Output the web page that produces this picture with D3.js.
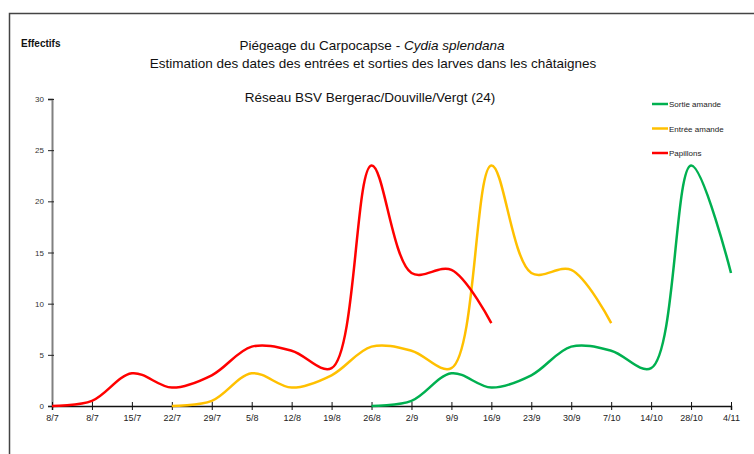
<!DOCTYPE html>
<html>
<head>
<meta charset="utf-8">
<script src="https://cdn.jsdelivr.net/npm/d3@7/dist/d3.min.js"></script>
<style>
  body { margin: 0; background: #fff; }
  svg { display: block; font-family: "Liberation Sans", Arial, sans-serif; }
</style>
</head>
<body>
<div id="chart"></div>
<script>
// dates de relevé (axe X)
const dates = ['8/7', '8/7', '15/7', '22/7', '29/7', '5/8', '12/8', '19/8', '26/8', '2/9',
  '9/9', '16/9', '23/9', '30/9', '7/10', '14/10', '28/10', '4/11'];

// effectifs par série (null = pas de relevé)
const papillons = [0, 0.5, 3.2, 1.8, 3, 5.8, 5.4, 3.7, 23.5, 13, 13.3, 8.1,
  null, null, null, null, null, null];
const entreeAmande = [null, null, null, 0, 0.5, 3.2, 1.8, 3, 5.8, 5.4, 3.7, 23.5,
  13, 13.3, 8.1, null, null, null];
const sortieAmande = [null, null, null, null, null, null, null, null, 0, 0.5, 3.2, 1.8,
  3, 5.8, 5.4, 3.7, 23.5, 13];

const yTicks = [0, 5, 10, 15, 20, 25, 30];

const series = [
  { name: 'Sortie amande', values: sortieAmande, color: '#00b050' },
  { name: 'Entrée amande', values: entreeAmande, color: '#ffc000' },
  { name: 'Papillons', values: papillons, color: '#ff0000' }
];

const w = 754, h = 454;
const svg = d3.select('#chart').append('svg').attr('width', w).attr('height', h);

// cadre du graphique
svg.append('rect')
  .attr('x', 9.5).attr('y', 13.5)
  .attr('width', 760).attr('height', 460)
  .attr('fill', 'none').attr('stroke', '#444').attr('stroke-width', 1.5);

const x = d3.scalePoint().domain(d3.range(dates.length)).range([52, 731]);
const y = d3.scaleLinear().domain([0, 30]).range([406, 99]);

// titres
svg.append('text').attr('x', 21).attr('y', 47)
  .attr('font-size', 10).attr('font-weight', 'bold').attr('fill', '#111')
  .text('Effectifs');

const t1 = svg.append('text').attr('x', 372).attr('y', 50)
  .attr('text-anchor', 'middle').attr('font-size', 13.5).attr('fill', '#111');
t1.append('tspan').text('Piégeage du Carpocapse - ');
t1.append('tspan').attr('font-style', 'italic').text('Cydia splendana');

svg.append('text').attr('x', 373).attr('y', 68)
  .attr('text-anchor', 'middle').attr('font-size', 13.5).attr('fill', '#111')
  .text('Estimation des dates des entrées et sorties des larves dans les châtaignes');

svg.append('text').attr('x', 370).attr('y', 102)
  .attr('text-anchor', 'middle').attr('font-size', 13.5).attr('fill', '#111')
  .text('Réseau BSV Bergerac/Douville/Vergt (24)');

// axe Y
const yAxis = svg.append('g')
  .attr('transform', 'translate(52,0)')
  .call(d3.axisLeft(y).tickValues(yTicks).tickSize(4).tickPadding(4));
yAxis.select('.domain').attr('stroke', '#808080').attr('stroke-width', 2);
yAxis.selectAll('.tick line').attr('x1', 2).attr('stroke', '#222');
yAxis.selectAll('.tick text').attr('font-size', 8).attr('fill', '#333')
  .attr('font-family', '"Liberation Sans", Arial, sans-serif');

// axe X
const xAxis = svg.append('g')
  .attr('transform', 'translate(0,406)')
  .call(d3.axisBottom(x).tickFormat(i => dates[i]).tickSize(4).tickPadding(5));
xAxis.select('.domain').attr('stroke', '#111').attr('stroke-width', 1.5);
xAxis.selectAll('.tick line').attr('y1', -4).attr('stroke', '#111');
xAxis.selectAll('.tick text').attr('font-size', 9).attr('fill', '#222')
  .attr('font-family', '"Liberation Sans", Arial, sans-serif');

// courbes lissées
const line = d3.line()
  .defined(d => d != null)
  .x((d, i) => x(i))
  .y(d => y(d))
  .curve(d3.curveCatmullRom.alpha(0.5));

svg.selectAll('.serie')
  .data(series)
  .enter().append('path')
  .attr('class', 'serie')
  .attr('fill', 'none')
  .attr('stroke', d => d.color)
  .attr('stroke-width', 2.5)
  .attr('stroke-linejoin', 'round')
  .attr('d', d => line(d.values));

// légende
const legend = svg.selectAll('.leg')
  .data(series)
  .enter().append('g')
  .attr('class', 'leg')
  .attr('transform', (d, i) => `translate(652,${104 + i * 24.5})`);
legend.append('line').attr('x1', 0).attr('x2', 16)
  .attr('stroke', d => d.color).attr('stroke-width', 2.5);
legend.append('text').attr('x', 17).attr('y', 3)
  .attr('font-size', 8).attr('fill', '#222')
  .text(d => d.name);
</script>
</body>
</html>
